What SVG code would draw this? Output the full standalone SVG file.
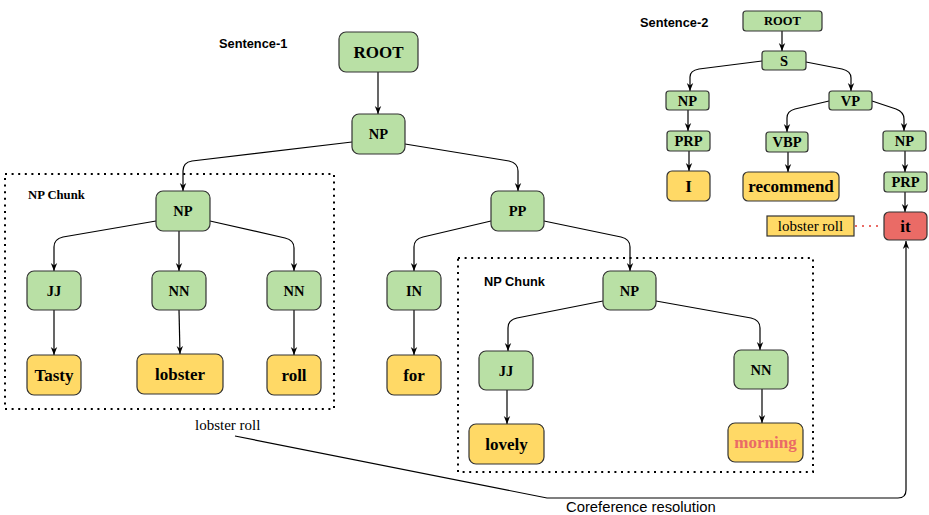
<svg xmlns="http://www.w3.org/2000/svg" width="929" height="515" viewBox="0 0 929 515">
<defs>
<marker id="arr" viewBox="0 0 10 10" refX="10" refY="5" markerWidth="8" markerHeight="8" orient="auto" markerUnits="userSpaceOnUse">
<path d="M0,1 L10,5 L0,9 L3,5 z" fill="#000"/>
</marker>
<style>
.g{fill:#B9E0A5;stroke:#333;stroke-width:1.2}
.y{fill:#FFD966;stroke:#333;stroke-width:1.2}
.r{fill:#EA6B66;stroke:#333;stroke-width:1.2}
.t{font-family:"Liberation Serif","Times New Roman",serif;font-weight:bold;text-anchor:middle;dominant-baseline:central;fill:#000}
.l{font-size:14.5px}
.w{font-size:17px}
.s{font-family:"Liberation Sans",Arial,sans-serif;font-weight:bold;font-size:12.8px;fill:#000}
.e{fill:none;stroke:#000;stroke-width:1.2;marker-end:url(#arr)}
.dot{fill:none;stroke:#000;stroke-width:2;stroke-dasharray:2 4.6}
</style>
</defs>
<rect width="929" height="515" fill="#fff"/>

<!-- chunk boxes -->
<rect class="dot" x="5" y="174" width="329" height="235"/>
<rect class="dot" x="458" y="258" width="355" height="214"/>

<!-- labels -->
<text class="s" x="219" y="48">Sentence-1</text>
<text class="s" x="640" y="27">Sentence-2</text>
<text x="28" y="199" font-family="Liberation Serif,Times New Roman,serif" font-weight="bold" font-size="12.7" fill="#000">NP Chunk</text>
<text class="s" x="484" y="286">NP Chunk</text>
<text x="195" y="430" font-family="Liberation Serif,Times New Roman,serif" font-size="15" fill="#000">lobster roll</text>
<text x="566" y="512" font-family="Liberation Sans,Arial,sans-serif" font-size="14.8" fill="#000">Coreference resolution</text>

<!-- connectors -->
<g id="connectors">
<path class="e" d="M378,72 L378,114"/>
<path class="e" d="M352,142 L192,161 Q183,162.5 183,171 L183,191"/>
<path class="e" d="M405,144 L509,161 Q518,163 518,171 L518,191"/>
<path class="e" d="M156,221 L63,237 Q54,239 54,247 L54,271"/>
<path class="e" d="M179,231 L179,271"/>
<path class="e" d="M210,221 L285,238 Q294,240 294,248 L294,271"/>
<path class="e" d="M54,310 L54,355"/>
<path class="e" d="M179,310 L180,354"/>
<path class="e" d="M294,310 L294,355"/>
<path class="e" d="M491,221 L423,237 Q414,239 414,247 L414,271"/>
<path class="e" d="M544,221 L621,237 Q630,239 630,247 L630,271"/>
<path class="e" d="M414,310 L414,355"/>
<path class="e" d="M603,301 L517,318 Q508,320 508,328 L508,351"/>
<path class="e" d="M656,301 L751,318 Q760,320 760,328 L760,350"/>
<path class="e" d="M507,390 L507,424"/>
<path class="e" d="M762,389 L762,423"/>
<path class="e" d="M782,31 L782,51"/>
<path class="e" d="M762,61 L699,69 Q690,70.5 690,77 L690,91"/>
<path class="e" d="M806,62 L842,69 Q851,71 851,78 L851,91"/>
<path class="e" d="M688,110 L688,131"/>
<path class="e" d="M689,151 L689,171"/>
<path class="e" d="M829,101 L795,109 Q787,111 787,118 L787,132"/>
<path class="e" d="M872,101 L896,109 Q904,112 904,119 L904,131"/>
<path class="e" d="M788,152 L788,172"/>
<path class="e" d="M905,151 L905,172"/>
<path class="e" d="M905,192 L905,212"/>
<path d="M855,226 L883,226" fill="none" stroke="#EA6B66" stroke-width="2" stroke-dasharray="2 5"/>
<path class="e" d="M235,436 L547,498 L898,498 Q906,498 906,490 L906,241"/>
</g>

<!-- Sentence 1 nodes -->
<g id="root1"><rect class="g" x="339" y="32" width="79" height="40" rx="7"/><text class="t" x="378.5" y="52" font-size="17">ROOT</text></g>
<g id="np1"><rect class="g" x="352" y="114" width="53" height="40" rx="7"/><text class="t l" x="378.5" y="134">NP</text></g>
<g id="np2"><rect class="g" x="156" y="191" width="54" height="40" rx="7"/><text class="t l" x="183" y="211">NP</text></g>
<g id="pp"><rect class="g" x="491" y="191" width="53" height="40" rx="7"/><text class="t l" x="517.5" y="211">PP</text></g>
<g id="jj1"><rect class="g" x="27" y="271" width="54" height="39" rx="7"/><text class="t l" x="54" y="290.5">JJ</text></g>
<g id="nn1"><rect class="g" x="152" y="271" width="54" height="39" rx="7"/><text class="t l" x="179" y="290.5">NN</text></g>
<g id="nn2"><rect class="g" x="267" y="271" width="54" height="39" rx="7"/><text class="t l" x="294" y="290.5">NN</text></g>
<g id="in"><rect class="g" x="387" y="271" width="54" height="39" rx="7"/><text class="t l" x="414" y="290.5">IN</text></g>
<g id="tasty"><rect class="y" x="27" y="355" width="54" height="40" rx="7"/><text class="t w" x="54" y="375">Tasty</text></g>
<g id="lobster"><rect class="y" x="137" y="354" width="86" height="40" rx="7"/><text class="t w" x="180" y="374">lobster</text></g>
<g id="roll"><rect class="y" x="267" y="355" width="54" height="40" rx="7"/><text class="t w" x="294" y="375">roll</text></g>
<g id="for"><rect class="y" x="387" y="355" width="54" height="40" rx="7"/><text class="t w" x="414" y="375">for</text></g>
<g id="np3"><rect class="g" x="603" y="271" width="53" height="39" rx="7"/><text class="t l" x="629.5" y="290.5">NP</text></g>
<g id="jj2"><rect class="g" x="479" y="351" width="54" height="39" rx="7"/><text class="t l" x="506" y="370.5">JJ</text></g>
<g id="nn3"><rect class="g" x="734" y="350" width="54" height="39" rx="7"/><text class="t l" x="761" y="369.5">NN</text></g>
<g id="lovely"><rect class="y" x="469" y="424" width="75" height="40" rx="7"/><text class="t w" x="506.5" y="444">lovely</text></g>
<g id="morning"><rect class="y" x="728" y="423" width="75" height="39" rx="7"/><text class="t w" x="765.5" y="442.5" style="fill:#EA6B66">morning</text></g>

<!-- Sentence 2 nodes -->
<g id="root2"><rect class="g" x="743" y="11" width="79" height="20" rx="3"/><text class="t" x="782.5" y="21" font-size="12.5">ROOT</text></g>
<g id="s"><rect class="g" x="762" y="51" width="44" height="19" rx="3"/><text class="t l" x="784" y="60.5">S</text></g>
<g id="np4"><rect class="g" x="666" y="91" width="43" height="19" rx="3"/><text class="t l" x="687.5" y="100.5">NP</text></g>
<g id="vp"><rect class="g" x="829" y="91" width="43" height="19" rx="3"/><text class="t l" x="850.5" y="100.5">VP</text></g>
<g id="prp1"><rect class="g" x="667" y="131" width="43" height="20" rx="3"/><text class="t l" x="688.5" y="141">PRP</text></g>
<g id="vbp"><rect class="g" x="766" y="132" width="42" height="20" rx="3"/><text class="t l" x="787" y="142">VBP</text></g>
<g id="np5"><rect class="g" x="883" y="131" width="43" height="20" rx="3"/><text class="t l" x="904.5" y="141">NP</text></g>
<g id="i"><rect class="y" x="667" y="171" width="43" height="30" rx="5"/><text class="t w" x="688.5" y="186">I</text></g>
<g id="recommend"><rect class="y" x="743" y="172" width="96" height="29" rx="5"/><text class="t w" x="791" y="186.5">recommend</text></g>
<g id="prp2"><rect class="g" x="884" y="172" width="43" height="20" rx="3"/><text class="t l" x="905.5" y="182">PRP</text></g>
<g id="it"><rect class="r" x="884" y="212" width="43" height="28" rx="5"/><text class="t w" x="905.5" y="226">it</text></g>
<g id="lobsterroll"><rect x="767" y="216" width="87" height="20" fill="#FFD966" stroke="#333" stroke-width="1.2"/><text x="810.5" y="226" font-family="Liberation Serif,Times New Roman,serif" font-size="15" text-anchor="middle" dominant-baseline="central" fill="#000">lobster roll</text></g>
</svg>
